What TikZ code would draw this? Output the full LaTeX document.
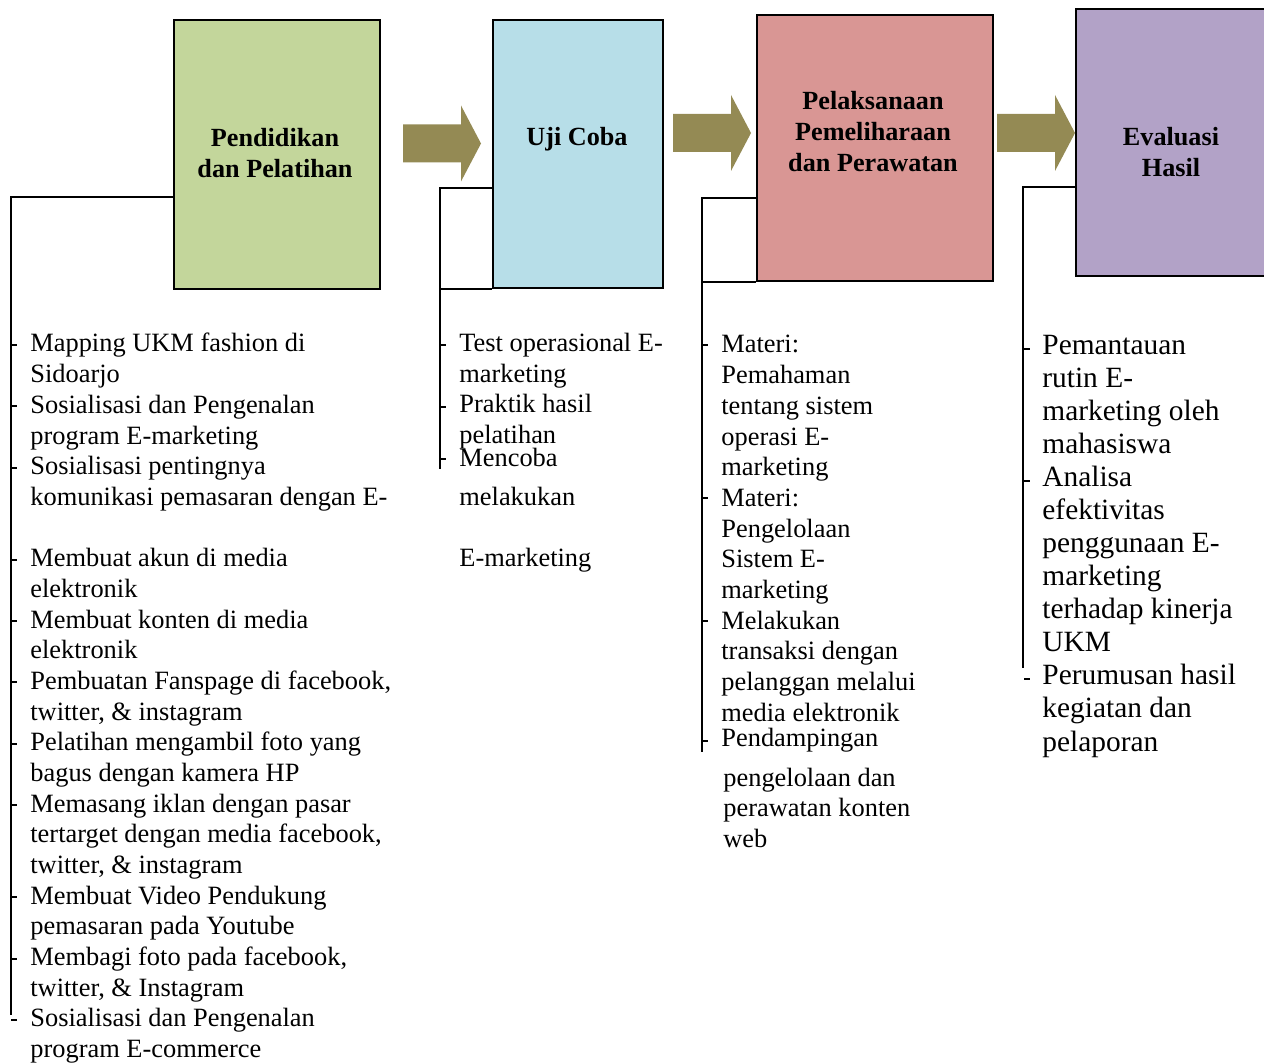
\documentclass[tikz,border=0pt]{standalone}
\usepackage{fontspec}
\setmainfont{Liberation Serif}
\definecolor{pendfill}{HTML}{C3D69B}
\definecolor{ujifill}{HTML}{B7DEE8}
\definecolor{pelfill}{HTML}{D99694}
\definecolor{evalfill}{HTML}{B2A2C7}
\definecolor{flowfill}{HTML}{948A54}
\tikzset{
	box/.style={draw, line width=1pt, anchor=north west, inner sep=0pt},
	title/.style={font=\bfseries\fontsize{13.1}{15.5}\selectfont, align=center, inner sep=0pt},
	item/.style={anchor=base west, inner sep=0pt, font=\fontsize{13.2}{15.35}\selectfont},
	itemb/.style={anchor=base west, inner sep=0pt, font=\fontsize{14.7}{16.5}\selectfont},
	conn/.style={line width=1pt},
	flow/.style={fill=flowfill}
}
\begin{document}
\begin{tikzpicture}[x=0.5pt,y=-0.5pt]
		\useasboundingbox (0,0) rectangle (1264,1063);
		\clip (0,0) rectangle (1264,1063);
		% the four stages
		\node[box, fill=pendfill, minimum width=103pt, minimum height=134.5pt] (pend) at (173,19) {};
		\node[box, fill=ujifill, minimum width=85pt, minimum height=134pt] (uji) at (492,19) {};
		\node[box, fill=pelfill, minimum width=118pt, minimum height=133pt] (pel) at (756,14) {};
		\node[box, fill=evalfill, minimum width=100pt, minimum height=133.5pt] (eval) at (1075,8) {};
		\node[title] (pendt) at (275,153) {Pendidikan\\dan Pelatihan};
		\node[title] (ujit) at (577,139) {Uji Coba};
		\node[title] (pelt) at (873,132) {Pelaksanaan\\Pemeliharaan\\dan Perawatan};
		\node[title] (evalt) at (1171,152) {Evaluasi\\Hasil};
		% block arrows
		\foreach \x/\y in {403/143.5, 673/133, 997/133}
			\fill[flow] (\x,\y) ++(0,-19) -- ++(58,0) -- ++(0,-19) -- ++(20,38)
				-- ++(-20,38) -- ++(0,-19) -- ++(-58,0) -- cycle;
		% brackets
		\coordinate (c1) at (11,197);
		\coordinate (c1e) at (11,1015);
		\coordinate (c2) at (440,188);
		\coordinate (c2e) at (440,469);
		\coordinate (c3) at (702,198);
		\coordinate (c3e) at (702,752);
		\coordinate (c4) at (1023,187);
		\coordinate (c4e) at (1023,668);
		\draw[conn] (c1 -| pend.west) -- (c1) -- (c1e);
		\draw[conn] (c2 -| uji.west) -- (c2) -- (c2e);
		\draw[conn] (c2 |- uji.south) -- (uji.south west);
		\draw[conn] (c3 -| pel.west) -- (c3) -- (c3e);
		\draw[conn] (c3 |- pel.south) -- (pel.south west);
		\draw[conn] (c4 -| eval.west) -- (c4) -- (c4e);
		% dashes
		\foreach \n in {0,2,4,7,9,11,13,15,18,20,22}
			\draw[conn] (11,345+30.68*\n) -- ++(6,0);
		\foreach \y in {345,407,459}
			\draw[conn] (440,\y) -- ++(6,0);
		\foreach \y in {345,498,621,741}
			\draw[conn] (702,\y) -- ++(6,0);
		\foreach \y in {349,481,679}
			\draw[conn] (1024,\y) -- ++(6,0);
		% Pendidikan dan Pelatihan
		\foreach \n/\t in {0/Mapping UKM fashion di, 1/Sidoarjo,
				2/Sosialisasi dan Pengenalan, 3/program E-marketing,
				4/Sosialisasi pentingnya, 5/komunikasi pemasaran dengan E-,
				7/Membuat akun di media, 8/elektronik,
				9/Membuat konten di media, 10/elektronik,
				11/{Pembuatan Fanspage di facebook,}, 12/{twitter, \& instagram},
				13/Pelatihan mengambil foto yang, 14/bagus dengan kamera HP,
				15/Memasang iklan dengan pasar, 16/{tertarget dengan media facebook,},
				17/{twitter, \& instagram}, 18/Membuat Video Pendukung,
				19/pemasaran pada Youtube, 20/{Membagi foto pada facebook,},
				21/{twitter, \& Instagram}, 22/Sosialisasi dan Pengenalan,
				23/program E-commerce}
			\node[item] (a\n) at (30,352+30.68*\n) {\t};
		% Uji Coba
		\node[item] (b1) at (459,352) {Test operasional E-};
		\node[item] (b2) at (459,383) {marketing};
		\node[item] (b3) at (459,413) {Praktik hasil};
		\node[item] (b4) at (459,444) {pelatihan};
		\node[item] (b5) at (459,467) {Mencoba};
		\node[item] (b6) at (459,506) {melakukan};
		\node[item] (b7) at (459,567) {E-marketing};
		% Pelaksanaan
		\foreach \n/\t in {0/Materi:, 1/Pemahaman, 2/tentang sistem, 3/operasi E-,
				4/marketing, 5/Materi:, 6/Pengelolaan, 7/Sistem E-, 8/marketing,
				9/Melakukan, 10/transaksi dengan, 11/pelanggan melalui,
				12/media elektronik}
			\node[item] (c\n) at (721,353+30.68*\n) {\t};
		\node[item] (c13) at (721,747) {Pendampingan};
		\node[item] (c14) at (723,786) {pengelolaan dan};
		\node[item] (c15) at (723,816) {perawatan konten};
		\node[item] (c16) at (723,847) {web};
		% Evaluasi
		\foreach \n/\t in {0/Pemantauan, 1/rutin E-, 2/marketing oleh, 3/mahasiswa,
				4/Analisa, 5/efektivitas, 6/penggunaan E-, 7/marketing,
				8/terhadap kinerja, 9/UKM, 10/Perumusan hasil, 11/kegiatan dan,
				12/pelaporan}
			\node[itemb] (d\n) at (1042,355+33*\n) {\t};
	\end{tikzpicture}
\end{document}
